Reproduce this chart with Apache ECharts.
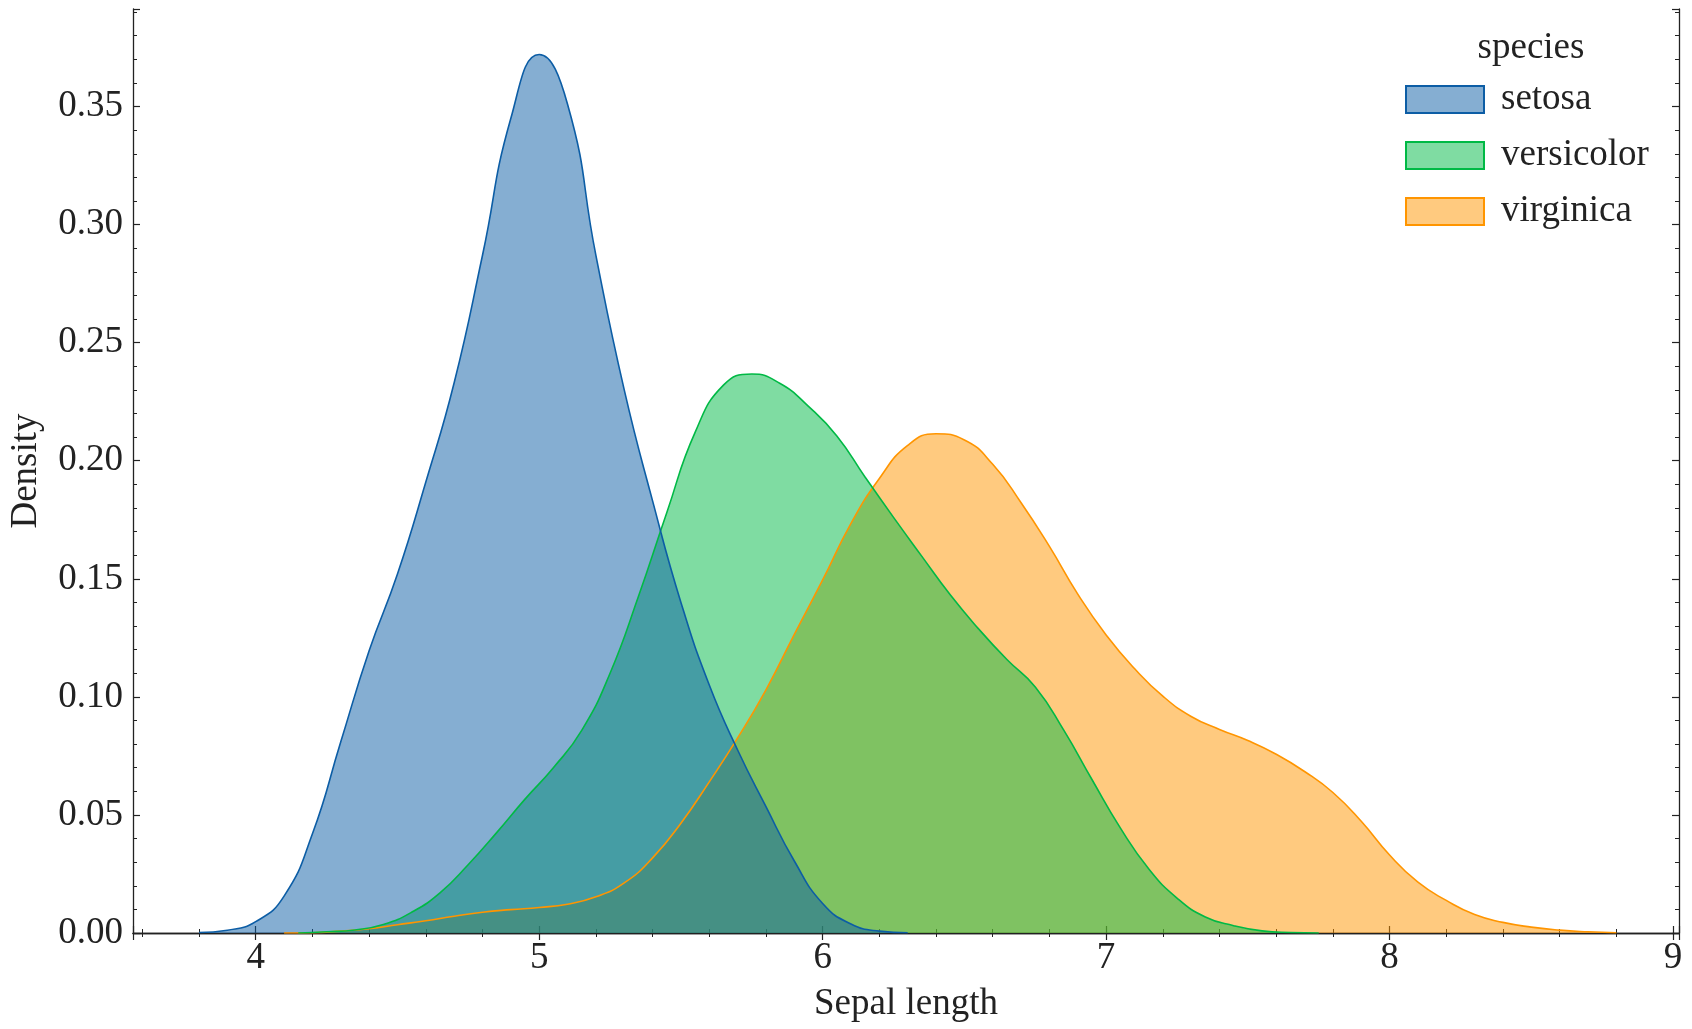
<!DOCTYPE html>
<html>
<head>
<meta charset="utf-8">
<script src="https://cdn.jsdelivr.net/npm/echarts@6/dist/echarts.min.js"></script>
<style>
html,body{margin:0;padding:0;background:#fff;}
#chart{width:1692px;height:1029px;}
</style>
</head>
<body>
<div id="chart"></div>
<script>
// Values (sepal length -> density)
var setosaX = [3.8,3.9,4.0,4.1,4.2,4.3,4.4,4.5,4.6,4.7,4.8,4.9,5.0,5.1,5.2,5.3,5.4,5.5,5.6,5.7,5.8,5.9,6.0,6.1,6.2,6.3];
var setosaY = [0.0002,0.0012,0.0048,0.0156,0.042,0.081,0.1195,0.152,0.191,0.233,0.287,0.345,0.372,0.351,0.287,0.230,0.183,0.140,0.105,0.0775,0.0535,0.0305,0.0125,0.0038,0.0008,0.0001];

var versicolorX = [4.15,4.25,4.35,4.45,4.55,4.65,4.75,4.85,4.95,5.05,5.15,5.25,5.35,5.45,5.55,5.65,5.75,5.85,5.95,6.05,6.15,6.25,6.35,6.45,6.55,6.65,6.75,6.85,6.95,7.05,7.15,7.25,7.35,7.45,7.55,7.65,7.75];
var versicolorY = [0.0,0.0005,0.0013,0.0036,0.0088,0.0170,0.029,0.0425,0.0567,0.070,0.0858,0.110,0.1425,0.178,0.212,0.232,0.2367,0.2327,0.2230,0.2105,0.193,0.176,0.1595,0.1432,0.1288,0.1158,0.1042,0.086,0.065,0.0445,0.0272,0.0148,0.0068,0.0031,0.0009,0.0002,0.0];

var virginicaX = [4.1,4.2,4.3,4.4,4.5,4.6,4.7,4.8,4.9,5.0,5.1,5.2,5.3,5.4,5.5,5.6,5.7,5.8,5.9,6.0,6.1,6.2,6.3,6.4,6.5,6.6,6.7,6.8,6.9,7.0,7.1,7.2,7.3,7.4,7.5,7.6,7.7,7.8,7.9,8.0,8.1,8.2,8.3,8.4,8.5,8.6,8.7,8.8];
var virginicaY = [0.0,0.0001,0.0008,0.0018,0.0035,0.0052,0.0071,0.0088,0.0099,0.0108,0.0122,0.0153,0.0212,0.0318,0.0465,0.0640,0.0826,0.1030,0.1265,0.1495,0.1735,0.1925,0.2065,0.2114,0.2088,0.1985,0.1822,0.1637,0.1435,0.1262,0.1120,0.1003,0.0917,0.0862,0.0815,0.0757,0.0684,0.0595,0.0473,0.0330,0.0215,0.0138,0.0078,0.0045,0.0025,0.0012,0.0005,0.0001];

var speciesNames = ['setosa','versicolor','virginica'];
var lineColors = ['#0C5DA5','#00B945','#FF9500'];
var fillColors = ['rgba(12,93,165,0.5)','rgba(0,185,69,0.5)','rgba(255,149,0,0.5)'];
var xs = [setosaX, versicolorX, virginicaX];
var ys = [setosaY, versicolorY, virginicaY];

var FONT = '"Liberation Serif", "DejaVu Serif", serif';
var TXT = '#222';
var FS = 37;

function pairs(x, y){
  return x.map(function(v,i){ return [v, y[i]]; });
}

// seaborn draws the first hue level on top -> add in reverse order
var series = [];
for (var k = speciesNames.length - 1; k >= 0; k--) {
  series.push({
    name: speciesNames[k],
    type: 'line',
    data: pairs(xs[k], ys[k]),
    smooth: 0.5,
    showSymbol: false,
    symbol: 'none',
    lineStyle: {color: lineColors[k], width: 1.6},
    itemStyle: {color: lineColors[k]},
    areaStyle: {color: fillColors[k], opacity: 1},
    emphasis: {disabled: true},
    silent: true,
    z: 2
  });
}

var axisLineStyle = {color: '#222', width: 1.3};
var tickStyle = {show: true, inside: true, length: 7, lineStyle: {color: '#222', width: 1.2}};
var minorStyle = {show: true, splitNumber: 5, length: 4, lineStyle: {color: '#222', width: 1}};

var chart = echarts.init(document.getElementById('chart'));
chart.setOption({
  animation: false,
  backgroundColor: '#fff',
  grid: {left: 129, right: 13, top: 9, bottom: 96, containLabel: false},
  legend: {
    orient: 'vertical',
    left: 1400,
    top: 76,
    itemWidth: 78,
    itemHeight: 27,
    itemGap: 19,
    icon: 'rect',
    selectedMode: false,
    textStyle: {fontFamily: FONT, fontSize: FS, color: TXT, padding: [0,0,0,12]},
    data: speciesNames.map(function(n,i){
      return {name: n, itemStyle: {color: fillColors[i], borderColor: lineColors[i], borderWidth: 2}};
    })
  },
  graphic: [{
    type: 'text',
    x: 1531,
    y: 48,
    style: {text: 'species', font: FS + 'px ' + FONT, fill: TXT, textAlign: 'center', textVerticalAlign: 'middle'}
  }],
  xAxis: [{
    type: 'value',
    min: 3.567,
    max: 9.021,
    splitNumber: 5,
    name: 'Sepal length',
    nameLocation: 'middle',
    nameGap: 53,
    nameTextStyle: {fontFamily: FONT, fontSize: FS, color: TXT},
    axisLine: {show: true, lineStyle: axisLineStyle},
    axisTick: tickStyle,
    minorTick: minorStyle,
    splitLine: {show: false},
    axisLabel: {show: true, showMinLabel: false, showMaxLabel: false, margin: 7, fontFamily: FONT, fontSize: FS, color: TXT,
      formatter: function(v){ return String(Math.round(v)); }}
  },{
    type: 'value',
    position: 'top',
    min: 3.567,
    max: 9.021,
    splitNumber: 5,
    axisLine: {show: true, lineStyle: axisLineStyle},
    axisTick: tickStyle,
    minorTick: minorStyle,
    splitLine: {show: false},
    axisLabel: {show: false}
  }],
  yAxis: [{
    type: 'value',
    min: 0,
    max: 0.3913,
    interval: 0.05,
    name: 'Density',
    nameLocation: 'middle',
    nameGap: 88,
    nameTextStyle: {fontFamily: FONT, fontSize: FS, color: TXT},
    axisLine: {show: true, lineStyle: axisLineStyle},
    axisTick: tickStyle,
    minorTick: minorStyle,
    splitLine: {show: false},
    axisLabel: {show: true, showMaxLabel: false, margin: 10, fontFamily: FONT, fontSize: FS, color: TXT,
      formatter: function(v){ return v.toFixed(2); }}
  },{
    type: 'value',
    position: 'right',
    min: 0,
    max: 0.3913,
    interval: 0.05,
    axisLine: {show: true, lineStyle: axisLineStyle},
    axisTick: tickStyle,
    minorTick: minorStyle,
    splitLine: {show: false},
    axisLabel: {show: false}
  }],
  series: series
});
</script>
</body>
</html>
